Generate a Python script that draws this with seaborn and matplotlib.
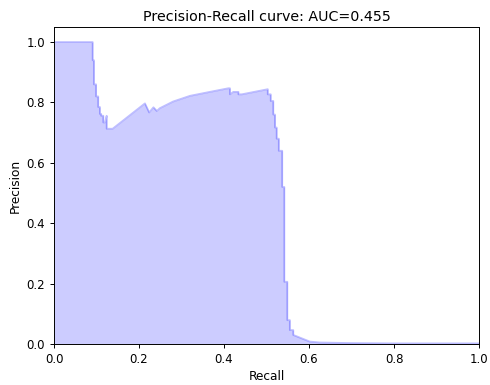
import matplotlib
matplotlib.use("Agg")
import matplotlib.pyplot as plt
import seaborn as sns
import numpy as np

# Data (recall, precision); duplicated recall = vertical step
recall = [0.0, 0.091, 0.091, 0.094, 0.094, 0.099, 0.099, 0.104, 0.104,
          0.108, 0.108, 0.111, 0.111, 0.116, 0.116, 0.120, 0.124, 0.124,
          0.138, 0.214, 0.214, 0.224, 0.234, 0.234, 0.242, 0.249, 0.280,
          0.320, 0.370, 0.410, 0.414, 0.414, 0.422, 0.434, 0.434, 0.442,
          0.496, 0.503, 0.503, 0.510, 0.510, 0.516, 0.516, 0.520, 0.520,
          0.524, 0.524, 0.529, 0.529, 0.537, 0.537, 0.542, 0.542, 0.549,
          0.549, 0.555, 0.555, 0.563, 0.563, 0.602, 0.625, 0.700, 0.800, 1.0]
precision = [1.0, 1.0, 0.94, 0.94, 0.86, 0.86, 0.82, 0.82, 0.785,
             0.785, 0.762, 0.762, 0.756, 0.756, 0.734, 0.734, 0.756, 0.713,
             0.713, 0.797, 0.797, 0.767, 0.784, 0.784, 0.772, 0.781, 0.803,
             0.822, 0.836, 0.847, 0.847, 0.827, 0.835, 0.835, 0.827, 0.827,
             0.842, 0.844, 0.827, 0.827, 0.805, 0.805, 0.76, 0.76, 0.717,
             0.717, 0.68, 0.68, 0.64, 0.64, 0.52, 0.52, 0.206, 0.206,
             0.079, 0.079, 0.046, 0.046, 0.03, 0.008, 0.005, 0.003, 0.002, 0.002]
title = "Precision-Recall curve: AUC=0.455"

plt.rcParams.update({
    "font.family": ["DejaVu Sans"],
    "axes.linewidth": 0.7,
    "xtick.major.width": 0.7,
    "ytick.major.width": 0.7,
    "xtick.major.size": 3.0,
    "ytick.major.size": 3.0,
    "xtick.labelsize": 8.5,
    "ytick.labelsize": 8.5,
})

fig = plt.figure(figsize=(4.9, 3.85), dpi=100)
ax = fig.add_axes([54 / 490, 1 - 344 / 385, 425 / 490, 317 / 385])

sns.lineplot(x=recall, y=precision, estimator=None, sort=False,
             color="b", alpha=0.25, linewidth=1.3, ax=ax)
ax.fill_between(recall, precision, alpha=0.2, color="b", linewidth=0)

ax.set_xlim(0.0, 1.0)
ax.set_ylim(0.0, 1.05)
ax.set_xlabel("Recall", fontsize=8.7, labelpad=3)
ax.set_ylabel("Precision", fontsize=8.7, labelpad=3)
ax.set_title(title, fontsize=10.3, pad=4.6)

fig.savefig("out.png", dpi=100)
